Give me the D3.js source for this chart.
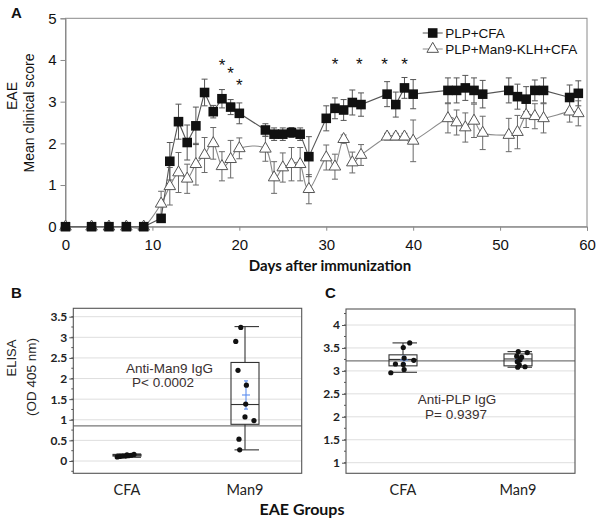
<!DOCTYPE html>
<html><head><meta charset="utf-8">
<script src="https://cdn.jsdelivr.net/npm/d3@7"></script>
<style>body{margin:0;background:#fff}svg{display:block}</style>
</head><body>
<script>
// ---------- Panel A data ----------
const days = [0,3,5,7,9, 11,12,13,14,15,16,17,18,19,20, 23,24,25,26,27,28, 30,31,32,33,34, 37,38,39,40, 44,45,46,47,48, 51,52,53,54,55, 58,59];
const cfaMean = [0,0,0,0,0, 0.2,1.57,2.52,2.02,2.42,3.22,2.76,3.07,2.87,2.72, 2.32,2.22,2.22,2.26,2.22,1.68, 2.6,2.84,2.8,2.98,2.93, 3.18,2.93,3.33,3.18, 3.27,3.27,3.33,3.27,3.18, 3.27,3.12,3.06,3.27,3.27, 3.1,3.2];
const cfaSem  = [0,0,0,0,0, 0.08,0.45,0.42,0.42,0.45,0.32,0.15,0.22,0.18,0.25, 0.15,0.15,0.15,0.12,0.15,0.48, 0.3,0.25,0.25,0.3,0.28, 0.3,0.3,0.25,0.35, 0.3,0.3,0.3,0.3,0.33, 0.3,0.3,0.3,0.25,0.3, 0.3,0.3];
const man9Mean = [0,0,0,0,0, 0.55,0.97,1.3,1.15,1.5,1.72,2.0,1.45,1.62,1.88, 1.87,1.18,1.42,1.5,1.5,0.9, 1.66,1.44,2.1,1.54,1.72, 2.16,2.16,2.16,2.06, 2.6,2.5,2.38,2.54,2.25, 2.2,2.27,2.68,2.65,2.6, 2.76,2.72];
const man9Sem  = [0,0,0,0,0, 0.3,0.45,0.48,0.35,0.5,0.42,0.38,0.35,0.45,0.25, 0.3,0.38,0.35,0.4,0.4,0.35, 0.3,0.3,0.1,0.25,0.25, 0.08,0.08,0.08,0.5, 0.35,0.3,0.35,0.4,0.4, 0.4,0.4,0.3,0.3,0.35, 0.25,0.3];
const seriesNames = ["PLP+CFA", "PLP+Man9-KLH+CFA"];
const starDays = [18,19,20,31,33.8,36.7,39];
const starValues = [3.9,3.72,3.42,3.93,3.93,3.93,3.93];
const xTicksA = [0,10,20,30,40,50,60];
const yTicksA = [0,1,2,3,4,5];

// ---------- Panel B / C data ----------
const groups = ["CFA", "Man9"];
const elisaManCFA  = [0.10,0.11,0.12,0.12,0.13,0.14,0.15,0.16];
const elisaManMan9 = [3.24,2.9,2.2,1.84,1.38,1.07,0.98,0.53,0.27];
const bQ1 = [0.12,0.89], bMed = [0.14,1.37], bQ3 = [0.16,2.39], bLo = [0.09,0.27], bHi = [0.17,3.26];
const grandMeanB = 0.85;
const elisaPlpCFA  = [3.61,3.51,3.28,3.23,3.15,3.14,3.03,2.96];
const elisaPlpMan9 = [3.42,3.40,3.32,3.30,3.24,3.2,3.13,3.09,3.08];
const cQ1 = [3.11,3.11], cMed = [3.25,3.26], cQ3 = [3.35,3.37], cLo = [2.97,3.08], cHi = [3.61,3.42];
const grandMeanC = 3.22;
const yTicksB = [0,0.5,1,1.5,2,2.5,3,3.5];
const yTicksC = [1,1.5,2,2.5,3,3.5,4];

// ---------- drawing ----------
const svg = d3.select("body").append("svg").attr("width",601).attr("height",524)
  .style("font-family","'Liberation Sans', Arial, sans-serif");

// ===== Panel A =====
const xA = d3.scaleLinear().domain([0,60]).range([65.5,587]);
const yA = d3.scaleLinear().domain([0,5]).range([226.7,18.3]);
const gA = svg.append("g");
gA.append("rect").attr("x",xA(0)).attr("y",yA(5)).attr("width",xA(60)-xA(0)).attr("height",yA(0)-yA(5))
  .attr("fill","none").attr("stroke","#8a8a8a").attr("stroke-width",1);
const axA = gA.append("g").attr("transform",`translate(${xA(0)},0)`)
  .call(d3.axisLeft(yA).tickValues(yTicksA).tickSize(5).tickPadding(4).tickFormat(d3.format("d")));
const axB = gA.append("g").attr("transform",`translate(0,${yA(0)})`)
  .call(d3.axisBottom(xA).tickValues(xTicksA).tickSize(4).tickPadding(9).tickFormat(d3.format("d")));
[axA,axB].forEach(a=>{
  a.select(".domain").attr("stroke","#8a8a8a");
  a.selectAll(".tick line").attr("stroke","#8a8a8a");
  a.selectAll("text").attr("font-size",15).attr("fill","#111").style("font-family","'Liberation Sans', Arial, sans-serif");
});
gA.append("text").attr("x",330).attr("y",271).attr("text-anchor","middle")
  .attr("font-size",15).attr("font-weight","bold").style("font-family","Lato, 'Open Sans', sans-serif").attr("fill","#111")
  .text("Days after immunization");
gA.append("text").attr("transform","translate(17,96) rotate(-90)").attr("text-anchor","middle")
  .attr("font-size",14).attr("fill","#111").text("EAE");
gA.append("text").attr("transform","translate(34,113) rotate(-90)").attr("text-anchor","middle")
  .attr("font-size",14).attr("fill","#111").text("Mean clinical score");
svg.append("text").attr("x",11).attr("y",18).attr("font-size",15).attr("font-weight","bold").attr("fill","#111").text("A");

function errBars(means, sems, color){
  const g = gA.append("g").attr("stroke",color).attr("stroke-width",1);
  days.forEach((d,i)=>{
    if(!(sems[i]>0)) return;
    const x = xA(d), y1 = yA(means[i]-sems[i]), y2 = yA(means[i]+sems[i]);
    g.append("line").attr("x1",x).attr("x2",x).attr("y1",y1).attr("y2",y2);
    g.append("line").attr("x1",x-3).attr("x2",x+3).attr("y1",y1).attr("y2",y1);
    g.append("line").attr("x1",x-3).attr("x2",x+3).attr("y1",y2).attr("y2",y2);
  });
}
errBars(man9Mean, man9Sem, "#6a6a6a");
errBars(cfaMean, cfaSem, "#555");

const ptsMan9 = days.map((d,i)=>[d,man9Mean[i]]);
const ptsCfa = days.map((d,i)=>[d,cfaMean[i]]);
gA.append("path").attr("d", d3.line().x(p=>xA(p[0])).y(p=>yA(p[1])).curve(d3.curveCardinal.tension(0))(ptsMan9))
  .attr("fill","none").attr("stroke","#8a8a8a").attr("stroke-width",1.1);
gA.append("path").attr("d", d3.line().x(p=>xA(p[0])).y(p=>yA(p[1]))(ptsCfa))
  .attr("fill","none").attr("stroke","#555").attr("stroke-width",1.1);

const triSym = d3.symbol(d3.symbolTriangle, 58);
const sqSym = d3.symbol(d3.symbolSquare, 92);
gA.append("g").selectAll("path").data(ptsMan9).join("path")
  .attr("d",triSym).attr("transform",p=>`translate(${xA(p[0])},${yA(p[1])})`)
  .attr("fill","#fff").attr("stroke","#555").attr("stroke-width",1);
gA.append("g").selectAll("path").data(ptsCfa).join("path")
  .attr("d",sqSym).attr("transform",p=>`translate(${xA(p[0])},${yA(p[1])})`)
  .attr("fill","#111");

gA.append("g").selectAll("text").data(starDays).join("text")
  .attr("x",d=>xA(d)).attr("y",(d,i)=>yA(starValues[i])+7).attr("text-anchor","middle")
  .attr("font-size",17).attr("fill","#111").text("*");

// legend
const lg = gA.append("g");
const lx0 = xA(41.1), lx1 = xA(43.4), lxm = (lx0+lx1)/2;
[[33,0],[49,1]].forEach(([ly,k])=>{
  lg.append("line").attr("x1",lx0).attr("x2",lx1).attr("y1",ly).attr("y2",ly).attr("stroke",k?"#8a8a8a":"#555");
  lg.append("path").attr("d",k?triSym:sqSym).attr("transform",`translate(${lxm},${ly})`)
    .attr("fill",k?"#fff":"#111").attr("stroke",k?"#555":"none");
  lg.append("text").attr("x",lx1+2.5).attr("y",ly+5).attr("font-size",13.5).attr("fill","#111").text(seriesNames[k]);
});

// ===== Box panels =====
function boxPanel(opt){
  const g = svg.append("g");
  const {x0,x1,yTop,yBot,y,xs,ticks} = opt;
  g.append("g").selectAll("line").data(ticks).join("line")
    .attr("x1",x0).attr("x2",x1).attr("y1",d=>y(d)).attr("y2",d=>y(d)).attr("stroke","#dedede");
  const minor = d3.range(ticks[0]-0.25, ticks[ticks.length-1]+0.26, 0.25).filter(v=>y(v)<yBot-1 && y(v)>yTop+1);
  g.append("g").selectAll("line").data(minor).join("line")
    .attr("x1",x0-2).attr("x2",x0).attr("y1",d=>y(d)).attr("y2",d=>y(d)).attr("stroke","#555");
  const ax = g.append("g").attr("transform",`translate(${x0},0)`)
    .call(d3.axisLeft(y).tickValues(ticks).tickSize(4).tickPadding(2).tickFormat(d=>String(d)));
  ax.select(".domain").remove();
  ax.selectAll(".tick line").attr("stroke","#555");
  ax.selectAll("text").attr("font-size",12).attr("font-weight","bold").attr("fill","#222")
    .style("font-family","Lato, 'Liberation Sans', sans-serif");
  g.append("line").attr("x1",x0).attr("x2",x1).attr("y1",y(opt.grand)).attr("y2",y(opt.grand)).attr("stroke","#777").attr("stroke-width",1.2);
  const hw = 14;
  groups.forEach((grp,i)=>{
    const cx = xs(grp);
    const bg = g.append("g").attr("stroke","#333").attr("fill","none").attr("stroke-width",1.1);
    bg.append("line").attr("x1",cx).attr("x2",cx).attr("y1",y(opt.hi[i])).attr("y2",y(opt.q3[i]));
    bg.append("line").attr("x1",cx).attr("x2",cx).attr("y1",y(opt.q1[i])).attr("y2",y(opt.lo[i]));
    bg.append("line").attr("x1",cx-hw*0.75).attr("x2",cx+hw).attr("y1",y(opt.hi[i])).attr("y2",y(opt.hi[i]));
    bg.append("line").attr("x1",cx-hw*0.75).attr("x2",cx+hw).attr("y1",y(opt.lo[i])).attr("y2",y(opt.lo[i]));
    bg.append("rect").attr("x",cx-hw).attr("width",2*hw).attr("y",y(opt.q3[i])).attr("height",Math.max(1,y(opt.q1[i])-y(opt.q3[i])));
    bg.append("line").attr("x1",cx-hw).attr("x2",cx+hw).attr("y1",y(opt.med[i])).attr("y2",y(opt.med[i]));
    const vals = opt.values[i];
    const m = d3.mean(vals), se = d3.deviation(vals)/Math.sqrt(vals.length);
    const mg = g.append("g").attr("stroke","#5b8def").attr("stroke-width",1.1);
    mg.append("line").attr("x1",cx+1).attr("x2",cx+1).attr("y1",y(m-se)).attr("y2",y(m+se));
    [m-se,m+se].forEach(v=>mg.append("line").attr("x1",cx-1).attr("x2",cx+3).attr("y1",y(v)).attr("y2",y(v)));
    mg.append("line").attr("x1",cx-3).attr("x2",cx+5).attr("y1",y(m)).attr("y2",y(m));
    g.append("g").selectAll("circle").data(vals).join("circle")
      .attr("cx",(v,k)=>cx+opt.jit[i][k]*hw).attr("cy",v=>y(v)).attr("r",2.6).attr("fill","#111");
    g.append("text").attr("x",cx).attr("y",495).attr("text-anchor","middle").attr("font-size",14.5)
      .style("font-family","Lato, 'Open Sans', sans-serif").attr("fill","#222").text(grp);
  });
  g.append("rect").attr("x",x0).attr("y",yTop).attr("width",x1-x0).attr("height",yBot-yTop)
    .attr("fill","none").attr("stroke","#555").attr("stroke-width",1.1);
  opt.note.forEach((t,k)=>{
    g.append("text").attr("x",opt.noteX[k]).attr("y",opt.noteY[k]).attr("text-anchor",opt.anchor)
      .attr("font-size",13.5).attr("fill","#3a3030").text(t);
  });
  return g;
}

const yB = d3.scaleLinear().domain([0,3.5]).range([461,316.7]);
const xB = d3.scalePoint().domain(groups).range([127,245]);
boxPanel({x0:73.3,x1:301.7,yTop:308.3,yBot:473.3,y:yB,xs:xB,ticks:yTicksB,grand:grandMeanB,
  q1:bQ1,med:bMed,q3:bQ3,lo:bLo,hi:bHi,values:[elisaManCFA,elisaManMan9],
  jit:[[-0.7,-0.5,-0.3,-0.1,0.1,0.3,0.0,0.5],[-0.3,-0.66,-0.5,0.1,0.05,0,0.64,-0.43,-0.38]],
  note:["Anti-Man9 IgG","P< 0.0002"],noteX:[126,132],noteY:[373,387],anchor:"start"});

const yC = d3.scaleLinear().domain([1,4]).range([462.7,325]);
const xC = d3.scalePoint().domain(groups).range([403,518]);
boxPanel({x0:346,x1:575,yTop:309,yBot:473.3,y:yC,xs:xC,ticks:yTicksC,grand:grandMeanC,
  q1:cQ1,med:cMed,q3:cQ3,lo:cLo,hi:cHi,values:[elisaPlpCFA,elisaPlpMan9],
  jit:[[0.48,0.02,0.08,0.77,-0.54,0.02,0.08,-0.87],[0.02,0.66,-0.09,0.26,0.14,-0.05,0.09,0.5,-0.02]],
  note:["Anti-PLP IgG","P= 0.9397"],noteX:[457,456],noteY:[404,419],anchor:"middle"});

svg.append("text").attr("x",11).attr("y",298).attr("font-size",15).attr("font-weight","bold").attr("fill","#111").text("B");
svg.append("text").attr("x",325).attr("y",298).attr("font-size",15).attr("font-weight","bold").attr("fill","#111").text("C");
svg.append("text").attr("transform","translate(16,358) rotate(-90)").attr("text-anchor","middle")
  .attr("font-size",13).attr("fill","#222").text("ELISA");
svg.append("text").attr("transform","translate(36,377) rotate(-90)").attr("text-anchor","middle")
  .attr("font-size",13.5).attr("fill","#222").text("(OD 405 nm)");
svg.append("text").attr("x",302).attr("y",515).attr("text-anchor","middle").attr("font-size",16)
  .attr("font-weight","bold").style("font-family","Lato, 'Open Sans', sans-serif").attr("fill","#111").text("EAE Groups");
</script>
</body></html>
